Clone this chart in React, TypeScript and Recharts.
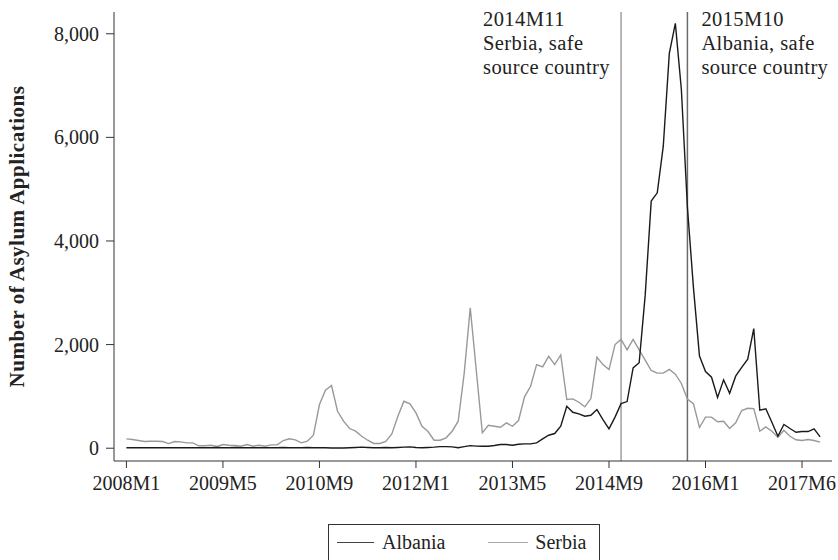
import React from "react";
import {
  LineChart,
  Line,
  XAxis,
  YAxis,
  ReferenceLine,
  Legend,
} from "recharts";

// monthly asylum applications, 2008M1 .. 2017M8 (index 0 = 2008M1)
const albania = [
  10, 10, 10, 10, 10, 10, 10, 10, 10, 10, 10, 10,
  10, 10, 10, 15, 10, 10, 15, 10, 10, 10, 10, 10,
  10, 10, 15, 10, 10, 10, 15, 10, 10, 10, 5, 5,
  5, 10, 15, 20, 15, 10, 10, 15, 10, 15, 20, 25,
  15, 10, 15, 20, 30, 30, 25, 10, 30, 50, 40,
  39, 39, 52, 71, 71, 58, 77, 84, 84, 103, 181, 251,
  283, 424, 810, 694, 663, 617, 636, 746, 553, 374, 600, 860,
  900, 1550, 1650, 2950, 4770, 4930, 5830, 7620, 8200, 6920, 4650, 3100,
  1780, 1480, 1370, 980, 1320, 1060, 1390, 1560, 1720, 2310, 733, 760,
  501, 231, 457, 380, 308, 322, 322, 374, 220,
];

const serbia = [
  181, 168, 148, 129, 135, 135, 129, 90, 129, 122, 103, 103,
  46, 46, 58, 33, 71, 58, 52, 39, 71, 39, 58, 39,
  65, 65, 148, 181, 161, 103, 135, 250, 843, 1118, 1209, 713,
  521, 380, 328, 231, 154, 91, 91, 129, 277, 617, 906, 856,
  682, 424, 322, 154, 154, 200, 328, 521, 1450, 2712, 1500,
  297, 444, 424, 405, 489, 424, 534, 991, 1196, 1614, 1569, 1774,
  1614, 1800, 939, 952, 887, 798, 958, 1755, 1614, 1517, 2000, 2100,
  1900, 2100, 1900, 1700, 1500, 1450, 1450, 1520, 1430, 1250, 950, 860,
  400, 600, 600, 510, 520, 380, 489, 727, 771, 765, 328, 412,
  328, 212, 347, 231, 162, 148, 168, 148, 116,
];

const xTicks = [0, 16, 32, 48, 64, 80, 96, 112];
const xTickLabels = [
  "2008M1", "2009M5", "2010M9", "2012M1",
  "2013M5", "2014M9", "2016M1", "2017M6",
];
const yTicks = [0, 2000, 4000, 6000, 8000];

const serbiaPolicy = 82; // 2014M11
const albaniaPolicy = 93; // 2015M10
const serbiaNote = ["2014M11", "Serbia, safe", "source country"];
const albaniaNote = ["2015M10", "Albania, safe", "source country"];

const data = albania.map((a, i) => ({ t: i, Albania: a, Serbia: serbia[i] }));

const FONT = "'Liberation Serif', 'DejaVu Serif', serif";

const noteLabel = (lines: string[], dx: number) => (props: any) => {
  const vb = props.viewBox || {};
  return (
    <text
      x={vb.x + dx}
      y={vb.y + 14}
      fontSize={20.5}
      letterSpacing={0.4}
      fill="#222"
      fontFamily={FONT}
    >
      {lines.map((l, k) => (
        <tspan key={k} x={vb.x + dx} dy={k === 0 ? 0 : 24}>
          {l}
        </tspan>
      ))}
    </text>
  );
};

const yLabel = (props: any) => {
  const vb = props.viewBox || {};
  const cy = vb.y + vb.height / 2;
  return (
    <text
      x={24}
      y={cy}
      transform={`rotate(-90, 24, ${cy})`}
      textAnchor="middle"
      fontSize={21}
      letterSpacing={0.5}
      fontWeight="bold"
      fill="#222"
      fontFamily={FONT}
    >
      Number of Asylum Applications
    </text>
  );
};

const LegendBox = () => (
  <div
    style={{
      boxSizing: "border-box",
      width: 272,
      height: 36,
      border: "1px solid #333",
      borderBottom: "none",
      display: "flex",
      alignItems: "center",
      fontFamily: FONT,
      fontSize: 20,
      color: "#222",
      paddingLeft: 8,
    }}
  >
    <span style={{ display: "inline-block", width: 37, height: 0, borderTop: "1.5px solid #444" }} />
    <span style={{ marginLeft: 8 }}>Albania</span>
    <span style={{ display: "inline-block", width: 40, height: 0, borderTop: "1.5px solid #aaa", marginLeft: 43 }} />
    <span style={{ marginLeft: 7 }}>Serbia</span>
  </div>
);

export default function App() {
  return (
    <div style={{ position: "absolute", left: 0, top: 0, fontFamily: FONT, background: "#fff" }}>
      <LineChart
        width={838}
        height={560}
        data={data}
        margin={{ top: 12, right: 6, left: 0, bottom: 0 }}
      >
        <XAxis
          dataKey="t"
          type="number"
          domain={[-2.06, 116.97]}
          ticks={xTicks}
          tickFormatter={(v: number) => xTickLabels[xTicks.indexOf(v)] ?? ""}
          tick={{ fontSize: 20, fill: "#222", fontFamily: FONT }}
          tickSize={7}
          tickMargin={8}
          height={63}
          stroke="#333"
          allowDataOverflow
        />
        <YAxis
          type="number"
          domain={[-247, 8420]}
          ticks={yTicks}
          tickFormatter={(v: number) => v.toLocaleString("en-US")}
          tick={{ fontSize: 20, fill: "#222", fontFamily: FONT }}
          tickSize={8}
          tickMargin={7}
          width={114}
          stroke="#333"
          allowDataOverflow
          label={{ content: yLabel }}
        />
        <ReferenceLine
          x={serbiaPolicy}
          stroke="#a0a0a0"
          strokeWidth={1.5}
          label={{ content: noteLabel(serbiaNote, -138) }}
        />
        <ReferenceLine
          x={albaniaPolicy}
          stroke="#6a6a6a"
          strokeWidth={1.5}
          label={{ content: noteLabel(albaniaNote, 14) }}
        />
        <Line
          dataKey="Serbia"
          stroke="#999"
          strokeWidth={1.4}
          dot={false}
          isAnimationActive={false}
        />
        <Line
          dataKey="Albania"
          stroke="#1a1a1a"
          strokeWidth={1.4}
          dot={false}
          isAnimationActive={false}
        />
        <Legend
          verticalAlign="bottom"
          height={36}
          content={<LegendBox />}
          wrapperStyle={{ left: 328, top: 524, bottom: "auto", width: 272, height: 36 }}
        />
      </LineChart>
    </div>
  );
}
